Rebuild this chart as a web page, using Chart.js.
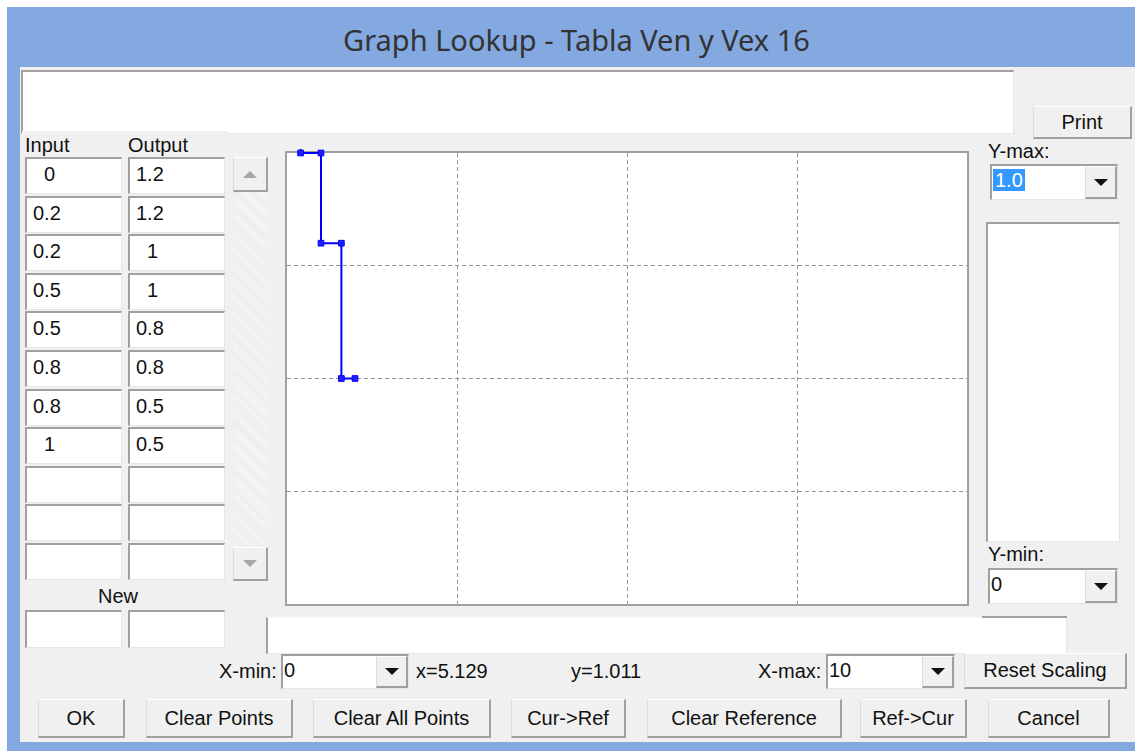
<!DOCTYPE html>
<html>
<head>
<meta charset="utf-8">
<script src="https://cdn.jsdelivr.net/npm/chart.js@4"></script>
<style>
  body { margin: 0; width: 1135px; height: 751px; background: #fff; position: relative; overflow: hidden;
         font-family: "Liberation Sans", Arial, sans-serif; font-size: 20px; color: #111; }
  div { box-sizing: border-box; }
  .abs { position: absolute; }
  .sunk { position: absolute; background: #fff; border-top: 2px solid #a0a0a0; border-left: 2px solid #a0a0a0;
          border-right: 1px solid #e6e6e6; border-bottom: 1px solid #e6e6e6; white-space: pre; line-height: 30px; padding-left: 6px; }
  .btn { position: absolute; background: #f0f0f0; border-top: 1px solid #fff; border-left: 1px solid #dcdcdc;
         border-right: 2px solid #a0a0a0; border-bottom: 2px solid #a0a0a0; display: flex; align-items: center; justify-content: center; }
  .arrow { width: 0; height: 0; border-left: 7px solid transparent; border-right: 7px solid transparent; border-top: 7px solid #111; }
  .lbl { position: absolute; white-space: pre; line-height: 22px; }
</style>
</head>
<body>
<div class="abs" style="left:7px;top:7px;width:1128px;height:744px;background:#84a8e0;"></div>
<div class="abs" id="title" style="left:7px;top:20px;width:1139px;text-align:center;font-family:'Noto Sans','Open Sans',sans-serif;font-size:27px;color:#333;white-space:pre;">Graph Lookup - Tabla Ven y Vex 16</div>
<div class="abs" style="left:20px;top:67px;width:1115px;height:675px;background:#f0f0f0;"></div>
<div class="abs" style="left:280px;top:146px;width:694px;height:465px;"><canvas id="plot" width="694" height="465"></canvas></div>
<script>
// lookup points (Input -> Output)
const inputs  = [0, 0.2, 0.2, 0.5, 0.5, 0.8, 0.8, 1];
const outputs = [1.2, 1.2, 1, 1, 0.8, 0.8, 0.5, 0.5];
// axis settings shown in the dialog
const xRange = [0, 10];
const yRange = [0, 1.0];
const xGridStep = 2.5;
const yGridStep = 0.25;
const cursorText = ['x=5.129', 'y=1.011'];

function box(cls, x, y, w, h, text, style) {
    const d = document.createElement('div');
    d.className = cls;
    d.style.left = x + 'px'; d.style.top = y + 'px';
    d.style.width = w + 'px'; d.style.height = h + 'px';
    if (text !== undefined && text !== null) d.textContent = text;
    if (style) d.style.cssText += style;
    document.body.appendChild(d);
    return d;
}
function label(x, y, text, style) {
    const d = box('lbl', x, y, 'auto', 22, text, style);
    d.style.width = 'auto';
    return d;
}
function combo(x, y, w, h, text, selected) {
    const c = box('sunk', x, y, w, h, '', 'padding-left:1px;line-height:28px;');
    const t = document.createElement('span');
    t.textContent = text;
    if (selected) t.style.cssText = 'background:#3399ff;color:#fff;padding:0 2px;';
    c.appendChild(t);
    const b = box('btn', x + w - 33, y + 2, 32, h - 3);
    const a = document.createElement('div');
    a.className = 'arrow';
    b.appendChild(a);
}
function fmt(v) {
    return Number.isInteger(v) ? '  ' + v : String(v);
}

// top comment box and print button
box('sunk', 21, 70, 993, 64);
box('abs', 22, 131, 205, 26, null, 'background:#f0f0f0;');
box('btn', 1033, 106, 99, 33, 'Print');

// table of points
label(25, 134, 'Input');
label(128, 134, 'Output');
for (let i = 0; i < 11; i++) {
    const y = Math.round(157 + i * 38.6);
    box('sunk', 25, y, 97, 37, i < inputs.length ? fmt(inputs[i]) : '');
    box('sunk', 128, y, 97, 37, i < outputs.length ? fmt(outputs[i]) : '');
}
label(98, 585, 'New');
box('sunk', 25, 610, 97, 38);
box('sunk', 128, 610, 97, 38);

// scrollbar
box('abs', 233, 157, 35, 424, null, 'background:repeating-linear-gradient(45deg,#f6f6f6 0 1px,#ececec 1px 2px);');
const up = box('btn', 233, 157, 35, 35);
up.innerHTML = '<div style="width:0;height:0;border-left:7px solid transparent;border-right:7px solid transparent;border-bottom:7px solid #a6a6a6;"></div>';
const dn = box('btn', 233, 547, 35, 34);
dn.innerHTML = '<div style="width:0;height:0;border-left:7px solid transparent;border-right:7px solid transparent;border-top:7px solid #a6a6a6;"></div>';

// right side
label(988, 140, 'Y-max:');
combo(990, 164, 128, 36, yRange[1].toFixed(1), true);
box('sunk', 986, 222, 134, 320);
label(988, 543, 'Y-min:');
combo(988, 568, 130, 36, String(yRange[0]), false);

// under the plot
box('sunk', 266, 617, 801, 37, '', 'border-top:1px solid #fafafa;');
box('abs', 982, 616, 85, 2, null, 'background:#a0a0a0;');
label(219, 660, 'X-min:');
combo(281, 654, 128, 35, String(xRange[0]), false);
label(416, 660, cursorText[0]);
label(571, 660, cursorText[1]);
label(758, 660, 'X-max:');
combo(826, 654, 129, 35, String(xRange[1]), false);
box('btn', 964, 653, 163, 36, 'Reset Scaling');

// button row
const buttons = [
    ['OK', 38, 87], ['Clear Points', 146, 147], ['Clear All Points', 313, 178], ['Cur->Ref', 511, 115],
    ['Clear Reference', 647, 195], ['Ref->Cur', 860, 107], ['Cancel', 988, 122]
];
buttons.forEach(b => box('btn', b[1], 699, b[2], 39, b[0]));

// fit title width to the caption in the screenshot
const title = document.getElementById('title');
const span = document.createElement('span');
span.textContent = title.textContent;
title.textContent = '';
title.appendChild(span);
const w = span.getBoundingClientRect().width;
title.style.fontSize = (27 * 467 / w) + 'px';

// plot
const points = inputs.map((x, i) => ({ x: x, y: outputs[i] }));
const edgeHidden = ctx => (ctx.index === 0 || ctx.index === ctx.chart.scales[ctx.scale.id].ticks.length - 1) ? 'rgba(0,0,0,0)' : '#959595';

const frame = {
    id: 'frame',
    beforeDraw(chart) {
        const a = chart.chartArea;
        const c = chart.ctx;
        c.save();
        c.fillStyle = '#ffffff';
        c.fillRect(a.left, a.top, a.right - a.left, a.bottom - a.top);
        c.restore();
    },
    beforeDatasetsDraw(chart) {
        const a = chart.chartArea;
        const c = chart.ctx;
        c.save();
        c.strokeStyle = '#a0a0a0';
        c.lineWidth = 2;
        c.strokeRect(a.left - 1, a.top - 1, a.right - a.left + 2, a.bottom - a.top + 2);
        c.restore();
    }
};

new Chart(document.getElementById('plot').getContext('2d'), {
    type: 'line',
    data: {
        datasets: [{
            data: points,
            borderColor: '#0000ff',
            backgroundColor: '#0000ff',
            borderWidth: 2,
            tension: 0,
            pointStyle: 'rect',
            pointRadius: 4,
            pointBorderWidth: 1,
            pointBackgroundColor: '#2020ff',
            pointBorderColor: '#0000ff',
            clip: 4
        }]
    },
    options: {
        responsive: false,
        animation: false,
        events: [],
        layout: { padding: 7 },
        plugins: {
            legend: { display: false },
            tooltip: { enabled: false }
        },
        scales: {
            x: {
                type: 'linear',
                min: xRange[0],
                max: xRange[1],
                ticks: { display: false, stepSize: xGridStep },
                grid: { drawTicks: false, color: edgeHidden, lineWidth: 1 },
                border: { display: false, dash: [4, 3] }
            },
            y: {
                min: yRange[0],
                max: yRange[1],
                ticks: { display: false, stepSize: yGridStep },
                grid: { drawTicks: false, color: edgeHidden, lineWidth: 1 },
                border: { display: false, dash: [4, 3] }
            }
        }
    },
    plugins: [frame]
});
</script>
</body>
</html>
